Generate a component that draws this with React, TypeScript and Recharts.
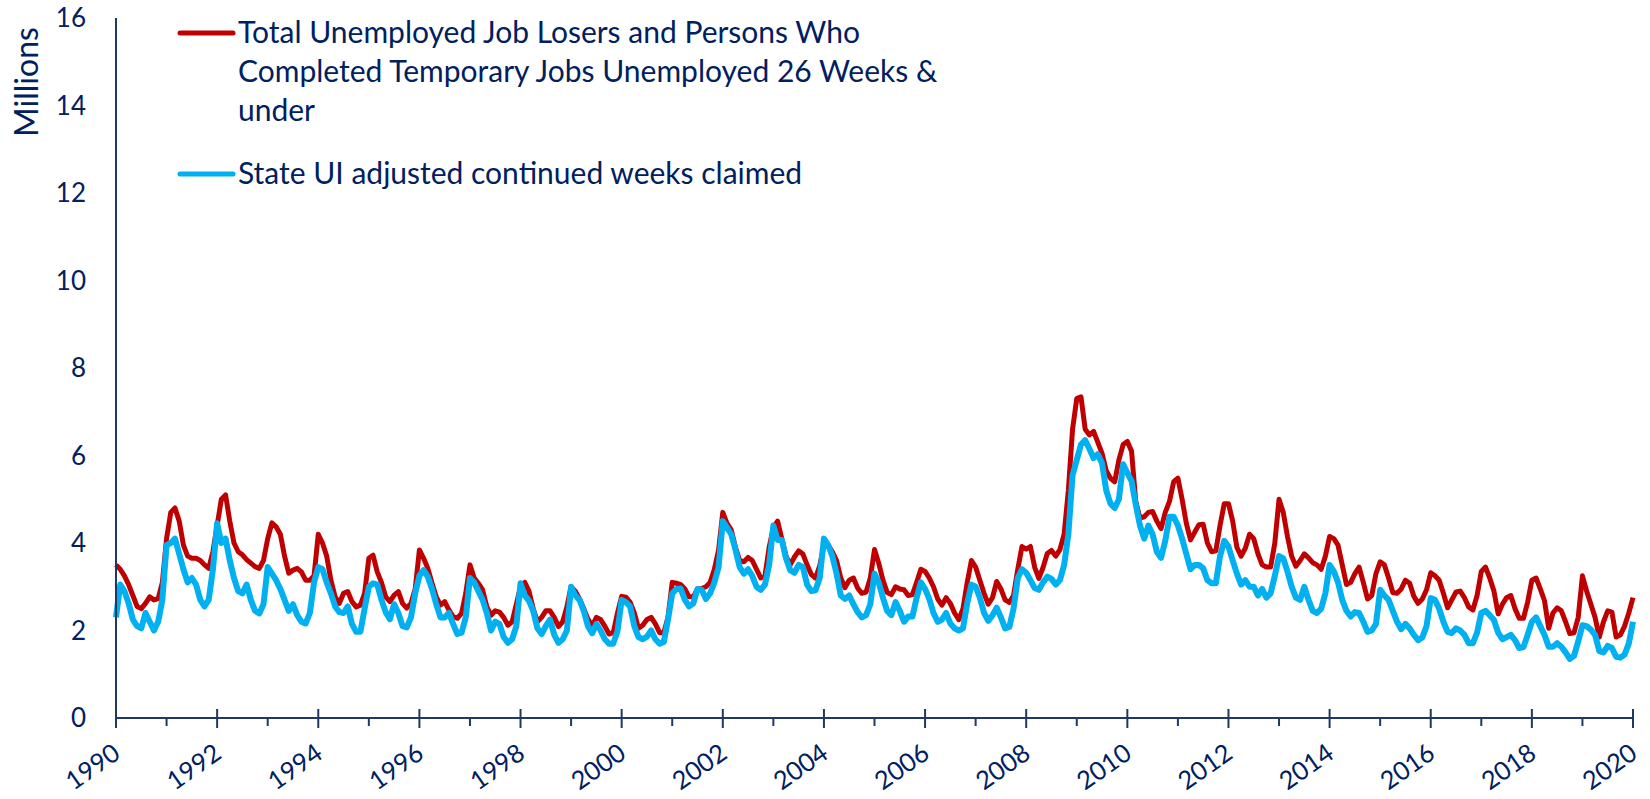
import { Legend, Line, LineChart, XAxis, YAxis } from "recharts";

// monthly, Jan 1990 .. Jan 2020, millions
const jobLosers = [
  3.5, 3.4, 3.25, 3.05, 2.8, 2.55, 2.5, 2.62, 2.77, 2.7, 2.73, 3.1, // 1990
  4.1, 4.7, 4.8, 4.5, 3.95, 3.7, 3.65, 3.65, 3.6, 3.5, 3.42, 3.8, // 1991
  4.4, 5.0, 5.1, 4.5, 4.0, 3.8, 3.73, 3.62, 3.54, 3.46, 3.42, 3.6, // 1992
  4.1, 4.46, 4.37, 4.2, 3.7, 3.31, 3.38, 3.42, 3.34, 3.15, 3.15, 3.25, // 1993
  4.2, 4.0, 3.7, 3.15, 2.77, 2.62, 2.85, 2.89, 2.66, 2.54, 2.58, 2.85, // 1994
  3.65, 3.72, 3.34, 3.1, 2.77, 2.66, 2.81, 2.89, 2.62, 2.51, 2.62, 2.95, // 1995
  3.84, 3.65, 3.42, 3.08, 2.77, 2.58, 2.66, 2.47, 2.32, 2.28, 2.39, 2.85, // 1996
  3.5, 3.2, 3.08, 2.93, 2.54, 2.35, 2.45, 2.42, 2.3, 2.12, 2.2, 2.6, // 1997
  3.0, 3.1, 2.9, 2.5, 2.2, 2.3, 2.45, 2.45, 2.3, 2.09, 2.2, 2.54, // 1998
  3.0, 2.9, 2.72, 2.5, 2.26, 2.1, 2.3, 2.25, 2.1, 1.92, 1.95, 2.4, // 1999
  2.78, 2.76, 2.65, 2.4, 2.05, 2.12, 2.25, 2.3, 2.15, 1.95, 1.95, 2.3, // 2000
  3.1, 3.08, 3.05, 2.95, 2.77, 2.77, 2.95, 2.96, 3.0, 3.1, 3.4, 3.84, // 2001
  4.7, 4.45, 4.3, 3.9, 3.6, 3.57, 3.67, 3.6, 3.4, 3.2, 3.25, 3.9, // 2002
  4.35, 4.5, 4.1, 3.7, 3.5, 3.68, 3.82, 3.75, 3.5, 3.28, 3.2, 3.48, // 2003
  3.95, 3.95, 3.8, 3.6, 3.2, 2.98, 3.15, 3.2, 2.97, 2.85, 2.88, 3.2, // 2004
  3.85, 3.54, 3.15, 2.87, 2.82, 3.0, 2.95, 2.93, 2.8, 2.82, 3.1, 3.4, // 2005
  3.35, 3.2, 3.0, 2.72, 2.58, 2.75, 2.62, 2.4, 2.25, 2.5, 3.1, 3.6, // 2006
  3.45, 3.15, 2.85, 2.6, 2.75, 3.12, 2.95, 2.7, 2.64, 2.8, 3.4, 3.92, // 2007
  3.86, 3.92, 3.45, 3.19, 3.44, 3.76, 3.83, 3.7, 3.85, 4.2, 5.2, 6.6, // 2008
  7.3, 7.34, 6.6, 6.47, 6.55, 6.3, 6.05, 5.65, 5.48, 5.4, 5.9, 6.25, // 2009
  6.32, 6.1, 4.95, 4.57, 4.6, 4.7, 4.72, 4.5, 4.33, 4.7, 4.95, 5.4, // 2010
  5.48, 5.0, 4.45, 4.07, 4.25, 4.42, 4.43, 4.0, 3.8, 3.82, 4.4, 4.9, // 2011
  4.9, 4.5, 3.9, 3.7, 3.88, 4.2, 4.1, 3.75, 3.5, 3.45, 3.45, 4.0, // 2012
  5.0, 4.7, 4.15, 3.7, 3.47, 3.6, 3.75, 3.66, 3.55, 3.5, 3.4, 3.7, // 2013
  4.15, 4.1, 3.95, 3.5, 3.05, 3.1, 3.3, 3.45, 3.1, 2.72, 2.8, 3.3, // 2014
  3.57, 3.5, 3.2, 2.87, 2.85, 2.95, 3.15, 3.08, 2.78, 2.62, 2.72, 2.93, // 2015
  3.32, 3.25, 3.15, 2.85, 2.52, 2.7, 2.88, 2.9, 2.75, 2.54, 2.47, 2.8, // 2016
  3.35, 3.45, 3.2, 2.9, 2.38, 2.6, 2.75, 2.8, 2.5, 2.28, 2.28, 2.65, // 2017
  3.15, 3.2, 2.95, 2.68, 2.05, 2.4, 2.52, 2.45, 2.2, 1.93, 1.95, 2.3, // 2018
  3.25, 2.9, 2.6, 2.3, 1.85, 2.2, 2.45, 2.42, 1.85, 1.9, 2.1, 2.4, // 2019
  2.75, // 2020
];

const continuedClaims = [
  2.3, 3.05, 2.9, 2.62, 2.25, 2.1, 2.05, 2.4, 2.2, 2.0, 2.2, 2.7, // 1990
  3.95, 4.0, 4.1, 3.75, 3.4, 3.1, 3.2, 3.05, 2.7, 2.55, 2.7, 3.4, // 1991
  4.45, 4.0, 4.1, 3.6, 3.2, 2.9, 2.85, 3.05, 2.7, 2.45, 2.39, 2.6, // 1992
  3.45, 3.3, 3.15, 2.95, 2.7, 2.45, 2.6, 2.35, 2.2, 2.16, 2.4, 3.1, // 1993
  3.45, 3.4, 3.1, 2.85, 2.55, 2.42, 2.4, 2.55, 2.15, 1.97, 1.97, 2.5, // 1994
  3.0, 3.08, 3.05, 2.7, 2.42, 2.26, 2.6, 2.4, 2.1, 2.07, 2.3, 2.85, // 1995
  3.25, 3.38, 3.23, 2.95, 2.6, 2.3, 2.3, 2.4, 2.15, 1.92, 1.95, 2.3, // 1996
  3.2, 3.1, 2.9, 2.7, 2.4, 2.0, 2.2, 2.15, 1.85, 1.72, 1.8, 2.1, // 1997
  3.08, 2.8, 2.68, 2.45, 2.05, 1.92, 2.1, 2.25, 1.9, 1.72, 1.8, 2.0, // 1998
  3.0, 2.8, 2.7, 2.45, 2.1, 1.94, 2.15, 2.0, 1.8, 1.7, 1.7, 1.98, // 1999
  2.7, 2.65, 2.55, 2.1, 1.85, 1.8, 1.86, 2.0, 1.8, 1.7, 1.74, 2.25, // 2000
  2.85, 2.95, 2.96, 2.7, 2.55, 2.62, 2.95, 2.93, 2.72, 2.85, 3.1, 3.45, // 2001
  4.5, 4.35, 4.2, 3.85, 3.45, 3.3, 3.4, 3.25, 3.0, 2.93, 3.05, 3.5, // 2002
  4.4, 4.07, 4.07, 3.65, 3.38, 3.32, 3.5, 3.45, 3.05, 2.9, 2.92, 3.2, // 2003
  4.1, 3.95, 3.7, 3.3, 2.8, 2.72, 2.8, 2.6, 2.42, 2.3, 2.35, 2.6, // 2004
  3.3, 3.1, 2.75, 2.45, 2.35, 2.65, 2.45, 2.2, 2.32, 2.32, 2.75, 3.1, // 2005
  2.95, 2.72, 2.4, 2.2, 2.25, 2.4, 2.16, 2.05, 2.0, 2.05, 2.62, 3.05, // 2006
  3.0, 2.75, 2.4, 2.22, 2.35, 2.52, 2.3, 2.05, 2.08, 2.5, 3.2, 3.4, // 2007
  3.32, 3.15, 2.97, 2.93, 3.1, 3.23, 3.18, 3.05, 3.15, 3.5, 4.2, 5.55, // 2008
  5.9, 6.25, 6.35, 6.15, 5.94, 6.03, 5.82, 5.2, 4.9, 4.8, 5.0, 5.8, // 2009
  5.6, 5.42, 4.88, 4.4, 4.1, 4.4, 4.2, 3.8, 3.66, 4.05, 4.6, 4.6, // 2010
  4.4, 4.1, 3.75, 3.4, 3.5, 3.5, 3.42, 3.15, 3.08, 3.08, 3.7, 4.05, // 2011
  3.92, 3.6, 3.3, 3.05, 3.15, 3.0, 3.0, 2.8, 2.95, 2.75, 2.85, 3.25, // 2012
  3.7, 3.65, 3.35, 3.0, 2.75, 2.7, 3.0, 2.7, 2.45, 2.4, 2.5, 2.85, // 2013
  3.5, 3.35, 3.1, 2.7, 2.45, 2.32, 2.42, 2.4, 2.2, 1.97, 2.0, 2.15, // 2014
  2.93, 2.8, 2.7, 2.45, 2.2, 2.03, 2.15, 2.05, 1.9, 1.78, 1.84, 2.1, // 2015
  2.74, 2.7, 2.5, 2.2, 1.97, 1.94, 2.05, 2.0, 1.9, 1.71, 1.71, 1.95, // 2016
  2.4, 2.45, 2.35, 2.24, 1.95, 1.8, 1.85, 1.9, 1.78, 1.6, 1.62, 1.9, // 2017
  2.2, 2.3, 2.1, 1.9, 1.63, 1.63, 1.71, 1.63, 1.5, 1.35, 1.42, 1.75, // 2018
  2.12, 2.1, 2.02, 1.9, 1.53, 1.5, 1.65, 1.6, 1.4, 1.38, 1.45, 1.7, // 2019
  2.2, // 2020
];

const yearTicks = [
  1990, 1991, 1992, 1993, 1994, 1995, 1996, 1997, 1998, 1999, 2000, 2001,
  2002, 2003, 2004, 2005, 2006, 2007, 2008, 2009, 2010, 2011, 2012, 2013,
  2014, 2015, 2016, 2017, 2018, 2019, 2020,
];
const valueTicks = [0, 2, 4, 6, 8, 10, 12, 14, 16];

const losersLabel = [
  "Total Unemployed Job Losers and Persons Who",
  "Completed Temporary Jobs Unemployed 26 Weeks &",
  "under",
];
const claimsLabel = ["State UI adjusted continued weeks claimed"];

const RED = "#C00000";
const BLUE = "#00B0F0";
const INK = "#002060";
const AXIS = "#1F3864";
const FONT = "Lato, 'Open Sans', sans-serif";

const data = jobLosers.map((v, i) => ({
  t: yearTicks[0] + i / 12,
  losers: v,
  claims: continuedClaims[i],
}));

// every year gets a tick mark; even years get a long one and a slanted label
function YearTick({ x, y, payload }: any) {
  const yr = payload.value as number;
  const major = yr % 2 === 0;
  return (
    <g>
      <line
        x1={x}
        x2={x}
        y1={major ? y - 9 : y}
        y2={major ? y + 10 : y + 8}
        stroke={AXIS}
        strokeWidth={2}
      />
      {major && (
        <g transform={`translate(${x + 6} ${y + 39}) rotate(-35)`}>
          <text
            x={0}
            y={0}
            textAnchor="end"
            fill={INK}
            fontSize={25.5}
            fontFamily={FONT}
          >
            {yr}
          </text>
        </g>
      )}
    </g>
  );
}

function ValueTick({ x, y, payload }: any) {
  return (
    <text
      x={x - 30}
      y={y}
      dy="0.36em"
      textAnchor="end"
      fill={INK}
      fontSize={26}
      fontFamily={FONT}
    >
      {payload.value}
    </text>
  );
}

function LegendBox() {
  const items = [
    { color: RED, lines: losersLabel, top: 33 },
    { color: BLUE, lines: claimsLabel, top: 174 },
  ];
  return (
    <svg width={1000} height={200}>
      {items.map((it) => (
        <g key={it.color}>
          <line
            x1={180}
            x2={233}
            y1={it.top}
            y2={it.top}
            stroke={it.color}
            strokeWidth={5}
            strokeLinecap="round"
          />
          <text fill={INK} fontSize={30} fontFamily={FONT}>
            {it.lines.map((ln, k) => (
              <tspan key={k} x={238} y={it.top + 10 + k * 39}>
                {ln}
              </tspan>
            ))}
          </text>
        </g>
      ))}
    </svg>
  );
}

export default function App() {
  return (
    <div style={{ position: "absolute", left: 0, top: 0, background: "#fff" }}>
      <LineChart
        width={1650}
        height={799}
        data={data}
        margin={{ top: 18, right: 17, bottom: 0, left: 0 }}
      >
        <XAxis
          type="number"
          dataKey="t"
          domain={[1990, 2020]}
          ticks={yearTicks}
          interval={0}
          height={81}
          tickSize={0}
          tickMargin={0}
          tickLine={false}
          axisLine={{ stroke: AXIS, strokeWidth: 2 }}
          tick={<YearTick />}
        />
        <YAxis
          type="number"
          domain={[0, 16]}
          ticks={valueTicks}
          width={116}
          tickSize={0}
          tickMargin={0}
          tickLine={false}
          axisLine={{ stroke: AXIS, strokeWidth: 2 }}
          tick={<ValueTick />}
          label={() => (
            <text
              x={38}
              y={82}
              textAnchor="middle"
              transform="rotate(-90 38 82)"
              fill={INK}
              fontSize={32}
              fontFamily={FONT}
            >
              Millions
            </text>
          )}
        />
        <Legend
          layout="horizontal"
          verticalAlign="middle"
          align="center"
          wrapperStyle={{ top: 0, left: 0, width: 1000, height: 200 }}
          content={() => <LegendBox />}
        />
        <Line
          type="linear"
          dataKey="losers"
          name={losersLabel.join(" ")}
          stroke={RED}
          strokeWidth={5}
          strokeLinejoin="round"
          dot={false}
          activeDot={false}
          isAnimationActive={false}
        />
        <Line
          type="linear"
          dataKey="claims"
          name={claimsLabel[0]}
          stroke={BLUE}
          strokeWidth={6}
          strokeLinejoin="round"
          dot={false}
          activeDot={false}
          isAnimationActive={false}
        />
      </LineChart>
    </div>
  );
}
